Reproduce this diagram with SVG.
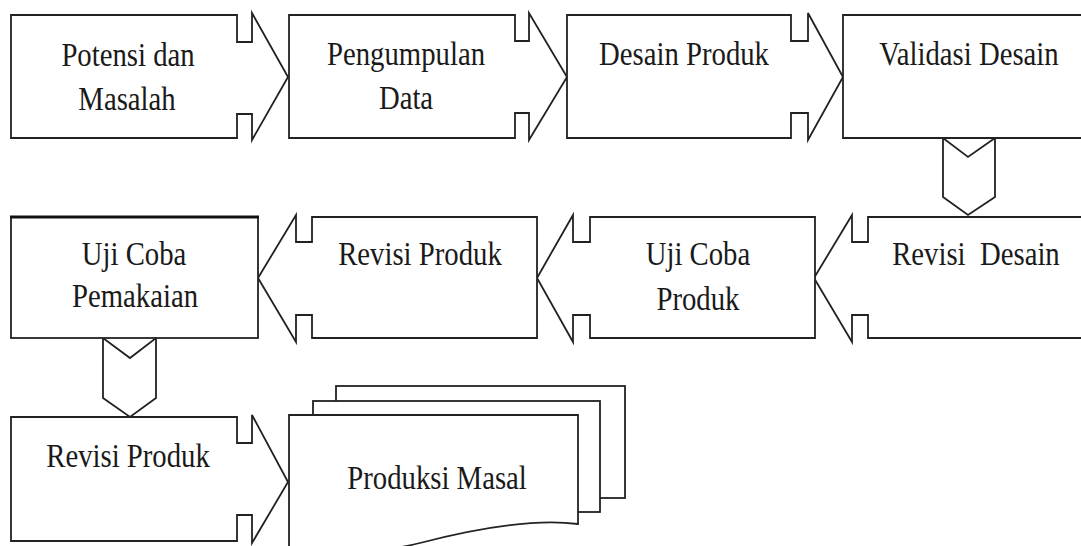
<svg xmlns="http://www.w3.org/2000/svg" width="1081" height="546" viewBox="0 0 1081 546">
<style>
.s{fill:#fff;stroke:#222;stroke-width:1.8;stroke-linejoin:miter}
.t{font-size:34px;fill:#1a1a1a;text-anchor:middle;white-space:pre}
</style>
<rect width="1081" height="546" fill="#fff"/>
<g id="connectors">
<path class="s" d="M943,138 V197 L968,215 L995,197 V138 L968,157 Z"/>
<path class="s" d="M103,338 V398 L130,417 L156,398 V338 L130,358 Z"/>
</g>
<g id="n1"><path class="s" d="M11,15 H237 V42 H252 V13 L288,77 L252,140 V114 H237 V138 H11 Z"/></g>
<g id="n2"><path class="s" d="M289,15 H515 V41 H529 V13 L567,77 L529,140 V113 H515 V138 H289 Z"/></g>
<g id="n3"><path class="s" d="M567,15 H791 V41 H808 V13 L843,77 L808,140 V113 H791 V138 H567 Z"/></g>
<g id="n4"><path class="s" d="M1090,15 H843 V138 H1090"/></g>
<g id="n5"><path class="s" d="M1090,217 H868 V242 H852 V215 L814,278 L852,342 V315 H868 V338 H1090"/></g>
<g id="n6"><path class="s" d="M815,217 H590 V242 H573 V215 L537,278 L573,342 V315 H590 V338 H815 Z"/></g>
<g id="n7"><path class="s" d="M537,217 H312 V242 H296 V215 L258,278 L296,342 V315 H312 V338 H537 Z"/></g>
<g id="n8"><rect class="s" x="11" y="217" width="247" height="121"/><line x1="10" y1="217" x2="259" y2="217" stroke="#111" stroke-width="3"/></g>
<g id="n9"><path class="s" d="M11,417 H237 V443 H252 V415 L288,482 L252,543 V515 H237 V541 H11 Z"/></g>
<g id="n10">
<rect class="s" x="336" y="386" width="289" height="112"/>
<rect class="s" x="313" y="401" width="287" height="111"/>
<path class="s" d="M289,415 H578 V524 C530,518 470,530 420,543 C380,553 330,556 289,552 Z"/>
</g>
<g transform="scale(0.845,1)" font-family="Liberation Serif, DejaVu Serif, serif">
<text class="t" x="151.5" y="66">Potensi dan</text>
<text class="t" x="150.3" y="110">Masalah</text>
<text class="t" x="480.5" y="65">Pengumpulan</text>
<text class="t" x="480.5" y="109">Data</text>
<text class="t" x="809.5" y="65">Desain Produk</text>
<text class="t" x="1146.7" y="65">Validasi Desain</text>
<text class="t" x="158.6" y="265">Uji Coba</text>
<text class="t" x="159.8" y="307">Pemakaian</text>
<text class="t" x="497" y="265">Revisi Produk</text>
<text class="t" x="826" y="265">Uji Coba</text>
<text class="t" x="826" y="310">Produk</text>
<text class="t" x="1155" y="265">Revisi  Desain</text>
<text class="t" x="151.5" y="467">Revisi Produk</text>
<text class="t" x="517.2" y="489">Produksi Masal</text>
</g>
</svg>
